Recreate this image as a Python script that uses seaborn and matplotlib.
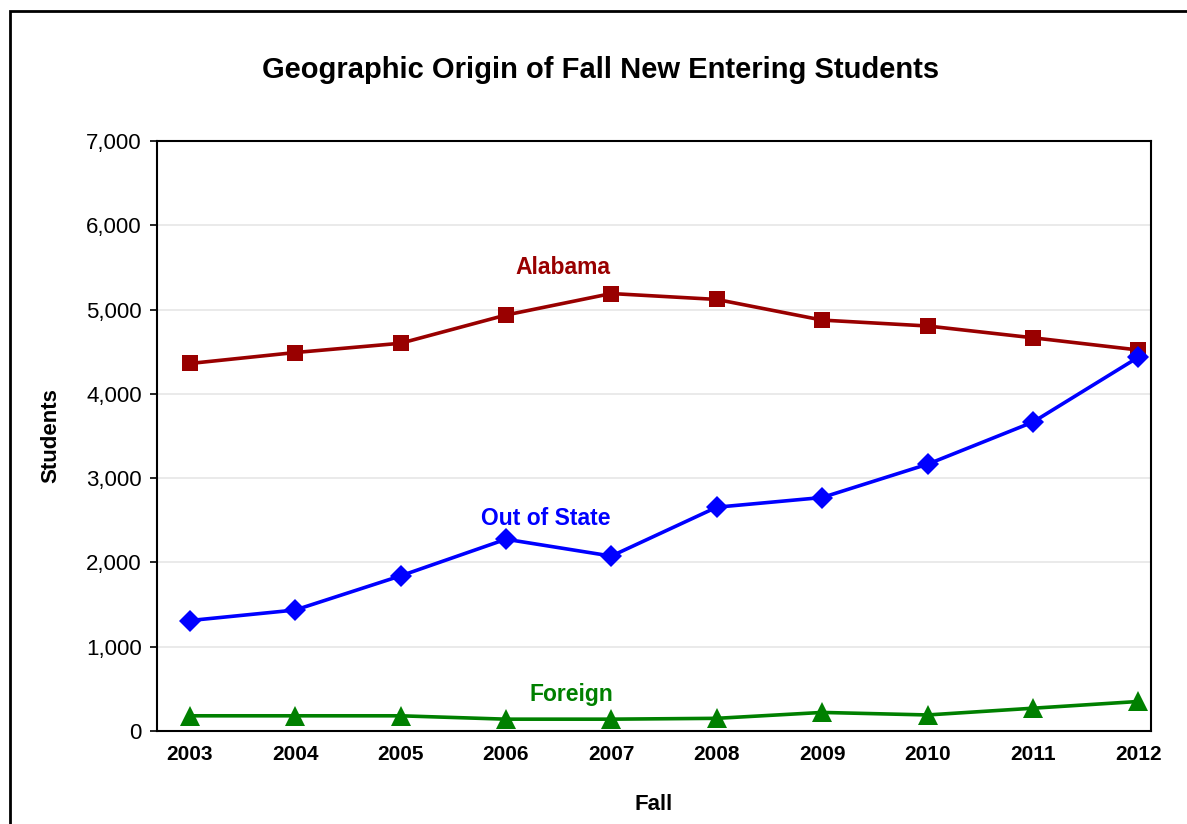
import matplotlib
matplotlib.use("Agg")
import matplotlib.pyplot as plt
import pandas as pd
import seaborn as sns
from matplotlib.ticker import FuncFormatter, MultipleLocator

# data
years = [2003, 2004, 2005, 2006, 2007, 2008, 2009, 2010, 2011, 2012]
alabama = [4360, 4490, 4600, 4935, 5190, 5120, 4875, 4805, 4665, 4520]
out_of_state = [1310, 1435, 1840, 2275, 2075, 2655, 2770, 3165, 3665, 4435]
foreign = [180, 180, 180, 140, 140, 150, 220, 190, 270, 350]

series_names = ["Alabama", "Out of State", "Foreign"]
colors = {"Alabama": "#990000", "Out of State": "#0000FF", "Foreign": "#008000"}
markers = {"Alabama": "s", "Out of State": "D", "Foreign": "^"}
marker_sizes = {"Alabama": 11, "Out of State": 11, "Foreign": 14}

df = pd.DataFrame({
    "Fall": years * 3,
    "Students": alabama + out_of_state + foreign,
    "Origin": [n for n in series_names for _ in years],
})

sns.set_style("white")
plt.rcParams["font.family"] = ["Liberation Sans", "DejaVu Sans"]
plt.rcParams["text.color"] = "black"
plt.rcParams["axes.labelcolor"] = "black"
plt.rcParams["xtick.color"] = "black"
plt.rcParams["ytick.color"] = "black"

fig = plt.figure(figsize=(11.87, 8.24), dpi=100)
ax = fig.add_axes([0.1323, 0.1129, 0.8374, 0.716])

for name in series_names:
    sub = df[df["Origin"] == name]
    sns.lineplot(data=sub, x="Fall", y="Students", color=colors[name],
                 marker=markers[name], markersize=marker_sizes[name],
                 markeredgewidth=0, linewidth=2.6, ax=ax)

ax.set_xlim(2003 - 0.31, 2012 + 0.12)
ax.set_ylim(0, 7000)
ax.yaxis.set_major_locator(MultipleLocator(1000))
ax.yaxis.set_major_formatter(FuncFormatter(lambda v, p: f"{int(v):,}"))
ax.set_xticks(years)
ax.set_xticklabels([str(y) for y in years], fontsize=15, fontweight="bold")
ax.tick_params(axis="y", labelsize=16, length=5, width=1.2, direction="out", left=True, pad=6)
ax.tick_params(axis="x", length=0, pad=10)
ax.grid(axis="y", color="#e6e6e6", linewidth=1.2)
ax.set_axisbelow(True)
for s in ax.spines.values():
    s.set_color("black")
    s.set_linewidth(1.5)

ax.set_xlabel("Fall", fontsize=16, fontweight="bold", labelpad=22)
ax.set_ylabel("Students", fontsize=16, fontweight="bold", labelpad=18)

# series labels
ax.text(2006.54, 5500, "Alabama", color=colors["Alabama"], fontsize=16.5,
        fontweight="bold", ha="center", va="center")
ax.text(2006.38, 2515, "Out of State", color=colors["Out of State"], fontsize=16.5,
        fontweight="bold", ha="center", va="center")
ax.text(2006.62, 427, "Foreign", color=colors["Foreign"], fontsize=16.5,
        fontweight="bold", ha="center", va="center")

fig.text(0.506, 0.915, "Geographic Origin of Fall New Entering Students",
         fontsize=21, fontweight="bold", ha="center", va="center")

# outer frame (runs off the right and bottom edges like the reference)
frame = plt.Rectangle((0.0084, -0.1), 1.2, 0.9867 + 0.1, transform=fig.transFigure,
                      fill=False, edgecolor="black", linewidth=2)
fig.patches.append(frame)

fig.savefig("out.png", dpi=100)
